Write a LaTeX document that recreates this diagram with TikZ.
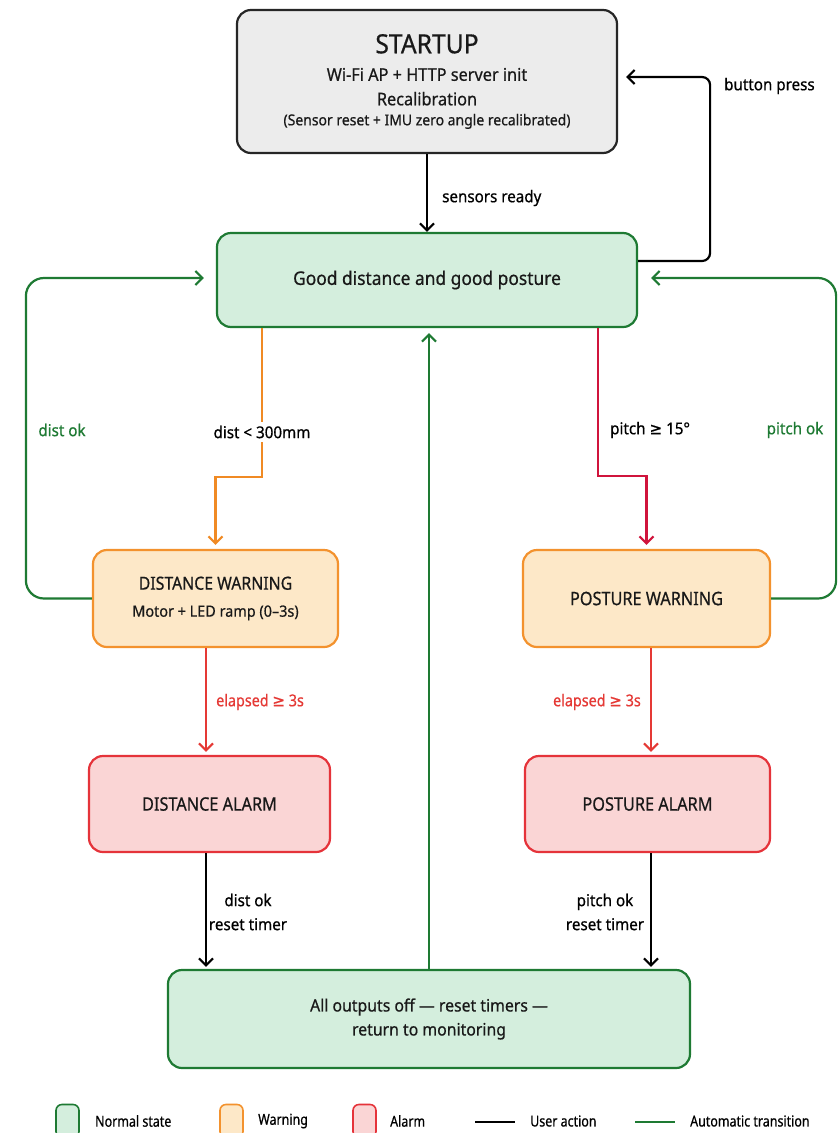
\documentclass[tikz,border=0pt]{standalone}
\usepackage{fontspec}
\setmainfont[FakeStretch=0.93,FakeBold=0.6]{Noto Sans}
\newfontfamily\symf[FakeStretch=0.93,FakeBold=0.6]{DejaVu Sans}
\newfontfamily\legf[FakeStretch=0.83,FakeBold=0.6]{Noto Sans}
\newfontfamily\titf[FakeStretch=0.88,FakeBold=0.6]{Noto Sans}
\usetikzlibrary{arrows.meta}
\definecolor{gborder}{HTML}{1E7A33}
\definecolor{gfill}{HTML}{D4EEDD}
\definecolor{oborder}{HTML}{F3922E}
\definecolor{ofill}{HTML}{FDE8C8}
\definecolor{rborder}{HTML}{E5333A}
\definecolor{rfill}{HTML}{FAD5D5}
\definecolor{sborder}{HTML}{262626}
\definecolor{sfill}{HTML}{ECECEC}
\definecolor{oarrow}{HTML}{F08A24}
\definecolor{rarrow}{HTML}{E53935}
\definecolor{carrow}{HTML}{D0143C}
\definecolor{gtext}{HTML}{1E7A33}
\newcommand{\geqsym}{{\symf ≥}}
\tikzset{
  statebox/.style={draw, rectangle, rounded corners=14pt, line width=2.2pt, align=center, inner sep=0pt, text=black!90},
  normalst/.style={statebox, draw=gborder, fill=gfill},
  warnst/.style={statebox, draw=oborder, fill=ofill},
  alarmst/.style={statebox, draw=rborder, fill=rfill},
  startst/.style={statebox, draw=sborder, fill=sfill},
  conn/.style={line width=2.2pt, -{Straight Barb[length=7pt,width=14pt,line width=2.2pt]}},
  lbl/.style={font=\fontsize{16.3}{24}\selectfont, inner sep=1pt},
  titlef/.style={font=\titf\fontsize{18.5}{22}\selectfont},
}
\begin{document}
\begin{tikzpicture}[x=1pt,y=-1pt]
\useasboundingbox (0,0) rectangle (840,1133);
\fill[white] (0,0) rectangle (840,1133);

% states
\node[startst, minimum width=380pt, minimum height=143pt, font=\fontsize{17.5}{24.5}\selectfont] (start) at (427,81.5)
  {{\fontsize{26.5}{28}\selectfont STARTUP}\\[3pt]
   Wi-Fi AP + HTTP server init\\
   Recalibration\\[-4.5pt]
   {\fontsize{15}{20}\selectfont (Sensor reset + IMU zero angle recalibrated)}};
\node[normalst, minimum width=420pt, minimum height=94pt, font=\fontsize{18.7}{24}\selectfont] (good) at (427,280) {Good distance and good posture};
\node[warnst, minimum width=245pt, minimum height=97pt, font=\fontsize{15.5}{27}\selectfont] (dw) at (215.5,598.5)
  {{\titf\fontsize{18}{22}\selectfont DISTANCE WARNING}\\{Motor + LED ramp (0–3s)}};
\node[warnst, minimum width=247pt, minimum height=97pt, titlef] (pw) at (646.5,598.5) {POSTURE WARNING};
\node[alarmst, minimum width=241pt, minimum height=96pt, titlef] (da) at (209.5,804) {DISTANCE ALARM};
\node[alarmst, minimum width=245pt, minimum height=96pt, titlef] (pa) at (647.5,804) {POSTURE ALARM};
\node[normalst, minimum width=522pt, minimum height=98pt, font=\fontsize{17}{24}\selectfont] (bot) at (429,1019)
  {All outputs off — reset timers —\\return to monitoring};

% connectors
\draw[conn, black] (start.south) -- (good.north);
\node[lbl, anchor=west] (lsr) at (441,198) {sensors ready};

\draw[conn, black, rounded corners=8pt, shorten >=8pt]
  ([yshift=19pt]good.east) -| ([xshift=92pt,yshift=4.5pt]start.east) -- ([yshift=4.5pt]start.east);
\node[lbl, anchor=west] (lbp) at (723,86) {button press};

\draw[conn, gborder, rounded corners=18pt, shorten >=12pt]
  (dw.west) -| ([xshift=-190pt,yshift=2pt]good.west) -- ([yshift=2pt]good.west);
\node[lbl, text=gtext] (ldo) at (62,430) {dist ok};

\draw[conn, gborder, rounded corners=18pt, shorten >=13pt]
  (pw.east) -| ([xshift=198pt,yshift=2pt]good.east) -- ([yshift=2pt]good.east);
\node[lbl, text=gtext] (lpo) at (795,430) {pitch ok};

\coordinate (gd) at ([xshift=-165pt]good.south);
\draw[conn, oarrow, shorten >=4pt] (gd) -- ++(0,149) -| (dw.north);
\node[lbl, fill=white, inner ysep=4pt] (ldist) at (262,432) {dist < 300mm};

\coordinate (gp) at ([xshift=171pt]good.south);
\draw[conn, carrow, shorten >=4pt] (gp) -- ++(0,148) -| (pw.north);
\node[lbl, anchor=west] (lpitch) at (609,430) {pitch \geqsym{} 15°};

\coordinate (dws) at ([xshift=-9.5pt]dw.south);
\draw[conn, rarrow, shorten >=3pt] (dws) -- (dws |- da.north);
\node[lbl, anchor=west, text=rarrow, font=\titf\fontsize{16.3}{20}\selectfont] (le1) at (215,702) {elapsed {\symf ≥} 3s};

\coordinate (pws) at ([xshift=4.5pt]pw.south);
\draw[conn, rarrow, shorten >=3pt] (pws) -- (pws |- pa.north);
\node[lbl, anchor=east, text=rarrow, font=\titf\fontsize{16.3}{20}\selectfont] (le2) at (642,702) {elapsed {\symf ≥} 3s};

\coordinate (das) at ([xshift=-3.5pt]da.south);
\draw[conn, black, shorten >=2pt] (das) -- (das |- bot.north);
\node[lbl, align=center] (ldr) at (248,912) {dist ok\\reset timer};

\coordinate (pas) at ([xshift=3.5pt]pa.south);
\draw[conn, black, shorten >=2pt] (pas) -- (pas |- bot.north);
\node[lbl, align=center] (lpr) at (605,912) {pitch ok\\reset timer};

\draw[conn, gborder, shorten >=5pt] (bot.north) -- (bot.north |- good.south);

% legend
\tikzset{legsw/.style={draw, rounded corners=6pt, line width=1.6pt, minimum width=23pt, minimum height=33pt, inner sep=0pt},
         legtx/.style={anchor=west, font=\legf\fontsize{15}{16}\selectfont, inner sep=0pt}}
\node[legsw, draw=gborder, fill=gfill] (sw1) at (67.5,1121) {};
\node[legtx] (t1) at (95,1121) {Normal state};
\node[legsw, draw=oborder, fill=ofill] (sw2) at (231.5,1121) {};
\node[legtx] (t2) at (258,1121) {Warning};
\node[legsw, draw=rborder, fill=rfill] (sw3) at (364.5,1121) {};
\node[legtx] (t3) at (390,1121) {Alarm};
\coordinate (l1a) at (475,1122);
\coordinate (l1b) at (515,1122);
\draw[black, line width=2.4pt] (l1a) -- (l1b);
\node[legtx] (t4) at (530,1121) {User action};
\coordinate (l2a) at (635,1122);
\coordinate (l2b) at (675,1122);
\draw[gborder, line width=2.4pt] (l2a) -- (l2b);
\node[legtx] (t5) at (690,1121) {Automatic transition};
\end{tikzpicture}
\end{document}
